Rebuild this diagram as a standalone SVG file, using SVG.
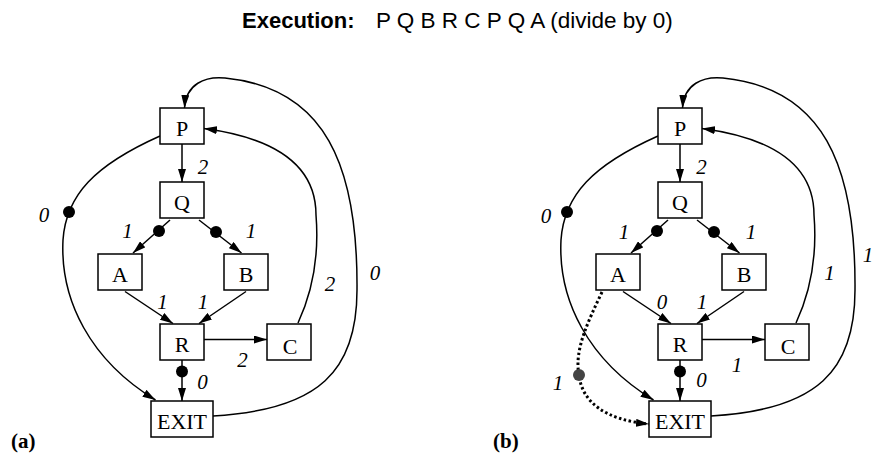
<svg xmlns="http://www.w3.org/2000/svg" width="875" height="457" viewBox="0 0 875 457">
<defs>
<marker id="arr" markerUnits="userSpaceOnUse" viewBox="0 0 13 8" refX="13" refY="4" markerWidth="13" markerHeight="8" orient="auto">
<path d="M0,0 L13,4 L0,8 z" fill="#000"/>
</marker>
</defs>
<style>
.box{fill:#fff;stroke:#000;stroke-width:1.5}
.nl{font-family:"Liberation Serif","Times New Roman",serif;font-size:22px;text-anchor:middle;fill:#000}
.e{fill:none;stroke:#000;stroke-width:1.5;marker-end:url(#arr)}
.dot{fill:#000}
.gdot{fill:#444}
.dash{fill:none;stroke:#000;stroke-width:3;stroke-dasharray:2.5 2.5;marker-end:url(#arr)}
.el{font-family:"Liberation Serif","Times New Roman",serif;font-size:21px;font-style:italic;text-anchor:middle;fill:#000}
.cap{font-family:"Liberation Serif","Times New Roman",serif;font-size:21px;font-weight:bold;fill:#000}
.t{font-family:"Liberation Sans",Arial,sans-serif;font-size:22px;fill:#000}
</style>
<rect width="875" height="457" fill="#fff"/>
<g id="title">
<text class="t" x="242" y="28" font-weight="bold">Execution:</text>
<text class="t" x="376" y="28" style="font-size:22.5px">P Q B R C P Q A (divide by 0)</text>
</g>
<g id="connectors-a">
<path class="e" d="M182,144 L182,182"/>
<path class="e" d="M160,136 C95,165 66,195 63,240 C60,300 90,360 155.5,400"/>
<path class="e" d="M170,220 L133,253"/>
<path class="e" d="M199,220 L241.5,253"/>
<path class="e" d="M125,291.5 L173,323.5"/>
<path class="e" d="M246,291.5 L199,323.5"/>
<path class="e" d="M204,339.5 L267,339.5"/>
<path class="e" d="M182,360 L182,401"/>
<path class="e" d="M298,323 C318,280 318,240 316,215 C316,165 275,138 204,128.5"/>
<path class="e" d="M213,416 C320,410 357,370 357,290 C358,165 325,88 225,78 C205,76 186,84 184.5,108"/>
<circle class="dot" cx="69" cy="212" r="6"/>
<circle class="dot" cx="159" cy="231" r="6"/>
<circle class="dot" cx="216" cy="232" r="6"/>
<circle class="dot" cx="182" cy="371.5" r="6"/>
</g>
<g id="edge-labels-a">
<text class="el" x="203" y="174">2</text>
<text class="el" x="44" y="222">0</text>
<text class="el" x="127.5" y="238">1</text>
<text class="el" x="251" y="238">1</text>
<text class="el" x="162.5" y="309">1</text>
<text class="el" x="203" y="309">1</text>
<text class="el" x="242.5" y="367">2</text>
<text class="el" x="202.5" y="389">0</text>
<text class="el" x="330" y="291">2</text>
<text class="el" x="375" y="280">0</text>
</g>
<g id="a-P"><rect class="box" x="160" y="108" width="44" height="36"/><text class="nl" x="182" y="136">P</text></g>
<g id="a-Q"><rect class="box" x="160" y="182" width="44" height="36"/><text class="nl" x="182" y="210">Q</text></g>
<g id="a-A"><rect class="box" x="98" y="254" width="44" height="36"/><text class="nl" x="120" y="282">A</text></g>
<g id="a-B"><rect class="box" x="224" y="254" width="44" height="36"/><text class="nl" x="246" y="282">B</text></g>
<g id="a-R"><rect class="box" x="160" y="324" width="44" height="36"/><text class="nl" x="182" y="352">R</text></g>
<g id="a-C"><rect class="box" x="267" y="324" width="44" height="36"/><text class="nl" x="290" y="354">C</text></g>
<g id="a-EXIT"><rect class="box" x="151" y="401" width="62" height="36"/><text class="nl" x="182" y="429">EXIT</text></g>
<text class="cap" x="11" y="448">(a)</text>

<g id="connectors-b">
<path class="e" d="M680,144 L680,182"/>
<path class="e" d="M658,136 C593,165 564,195 561,240 C558,300 588,360 653.5,400"/>
<path class="e" d="M668,220 L631,253"/>
<path class="e" d="M697,220 L739.5,253"/>
<path class="e" d="M623,291.5 L671,323.5"/>
<path class="e" d="M744,291.5 L697,323.5"/>
<path class="e" d="M702,339.5 L765,339.5"/>
<path class="e" d="M680,360 L680,401"/>
<path class="e" d="M796,323 C816,280 816,240 814,215 C814,165 773,138 702,128.5"/>
<path class="e" d="M711,416 C818,410 855,370 855,290 C856,165 823,88 723,78 C703,76 684,84 682.5,108"/>
<path class="dash" d="M602,292 C588,322 574,350 579,375 C582,402 605,420 649,424"/>
<circle class="dot" cx="567" cy="212" r="6"/>
<circle class="dot" cx="657" cy="231" r="6"/>
<circle class="dot" cx="714" cy="232" r="6"/>
<circle class="dot" cx="680" cy="371.5" r="6"/>
<circle class="gdot" cx="579" cy="375" r="6"/>
</g>
<g id="edge-labels-b">
<text class="el" x="701.5" y="174">2</text>
<text class="el" x="546" y="223">0</text>
<text class="el" x="624" y="239">1</text>
<text class="el" x="751" y="239">1</text>
<text class="el" x="662" y="309">0</text>
<text class="el" x="702" y="309">1</text>
<text class="el" x="737" y="372">1</text>
<text class="el" x="701.5" y="386.5">0</text>
<text class="el" x="829.5" y="280">1</text>
<text class="el" x="558" y="390">1</text>
<text class="el" x="868" y="262">1</text>
</g>
<g id="b-P"><rect class="box" x="658" y="108" width="44" height="36"/><text class="nl" x="680" y="136">P</text></g>
<g id="b-Q"><rect class="box" x="658" y="182" width="44" height="36"/><text class="nl" x="680" y="210">Q</text></g>
<g id="b-A"><rect class="box" x="596" y="254" width="44" height="36"/><text class="nl" x="618" y="282">A</text></g>
<g id="b-B"><rect class="box" x="722" y="254" width="44" height="36"/><text class="nl" x="744" y="282">B</text></g>
<g id="b-R"><rect class="box" x="658" y="324" width="44" height="36"/><text class="nl" x="680" y="352">R</text></g>
<g id="b-C"><rect class="box" x="765" y="324" width="44" height="36"/><text class="nl" x="788" y="354">C</text></g>
<g id="b-EXIT"><rect class="box" x="649" y="401" width="62" height="36"/><text class="nl" x="680" y="429">EXIT</text></g>
<text class="cap" x="493" y="448">(b)</text>
</svg>
